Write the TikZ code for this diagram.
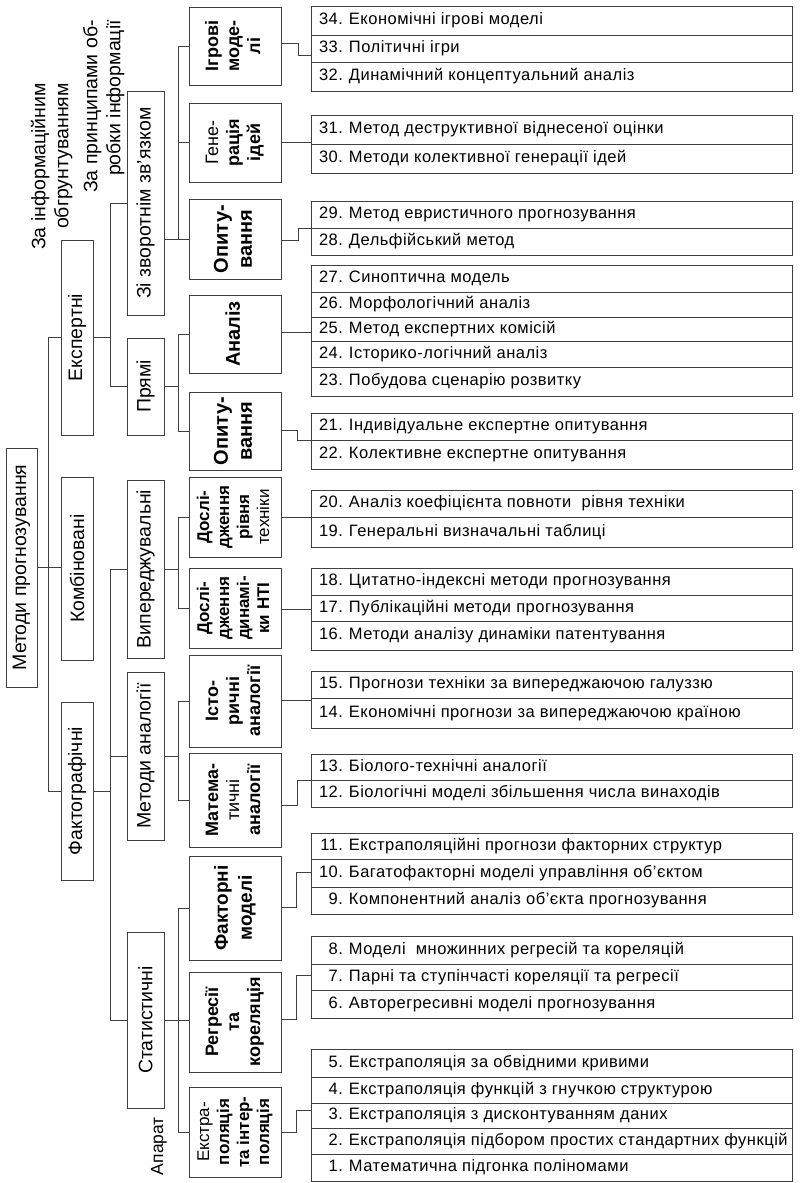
\documentclass[tikz,border=0pt]{standalone}
\usepackage{fontspec}
\setmainfont{Liberation Sans}
\newfontfamily\listfont[LetterSpace=3]{Liberation Sans}
\usepackage{graphicx}
\newcommand\vtxt[1]{\rotatebox{90}{\begin{tabular}{@{}c@{}}#1\end{tabular}}}
\newcommand\lrow[5]{\node[lrow, minimum height={#3-#2}] (#1) at (551.5,{(#2+#3)/2}) {\makebox[469pt][l]{\makebox[26pt][r]{#4}\hspace{6pt}#5}};}
\tikzset{
  ln/.style={draw=black!75, line width=1pt},
  bx/.style={draw=black!75, line width=1pt, rectangle, inner sep=0pt, outer sep=0pt},
  c12/.style={bx, font=\fontsize{19.5}{23}\selectfont},
  c4/.style={bx, minimum width=92, font=\fontsize{18}{21}\selectfont\bfseries},
  c4big/.style={c4, font=\fontsize{20}{24}\selectfont\bfseries},
  c4small/.style={c4, font=\fontsize{17}{20}\selectfont\bfseries},
  lrow/.style={draw=black!75, line width=1pt, rectangle, inner xsep=6pt, inner ysep=0pt, outer sep=0pt, minimum width=481, text height=12pt, text depth=4pt, font=\listfont\fontsize{16.5}{19}\selectfont},
  lab/.style={inner sep=0pt, font=\fontsize{19.5}{23}\selectfont}
}
\begin{document}
\begin{tikzpicture}[x=1pt,y=-1pt]
\useasboundingbox (0,0) rectangle (800,1183);
\fill[white] (0,0) rectangle (800,1183);

% top-left labels
\node[lab, anchor=north west] (lbA) at (29,83) {\rotatebox{90}{\begin{tabular}{@{}r@{}}За інформаційним\\обгрунтуванням\end{tabular}}};
\node[lab, anchor=north west] (lbB) at (81,20) {\rotatebox{90}{\begin{tabular}{@{}r@{}}За принципами об-\\робки інформації\end{tabular}}};
\node[inner sep=0pt, font=\fontsize{17.5}{20}\selectfont] (apar) at (159,1146) {\rotatebox{90}{Апарат}};

% column 1
\node[c12, minimum width=31, minimum height=239] (met) at (21.5,567.5) {\rotatebox{90}{Методи прогнозування}};
% column 2
\node[c12, minimum width=32, minimum height=195] (eks) at (77,337.5) {\rotatebox{90}{Експертні}};
\node[c12, minimum width=32, minimum height=183] (komb) at (77,568.5) {\rotatebox{90}{Комбіновані}};
\node[c12, minimum width=32, minimum height=178] (fakt) at (77,791) {\rotatebox{90}{Фактографічні}};
% column 3
\node[c12, minimum width=37, minimum height=224] (zz) at (145.5,203) {\rotatebox{90}{Зі зворотнім зв’язком}};
\node[c12, minimum width=37, minimum height=97] (pr) at (145.5,386.5) {\rotatebox{90}{Прямі}};
\node[c12, minimum width=37, minimum height=178] (vyp) at (145.5,569) {\rotatebox{90}{Випереджувальні}};
\node[c12, minimum width=37, minimum height=168] (ma) at (145.5,756) {\rotatebox{90}{Методи аналогії}};
\node[c12, minimum width=37, minimum height=176] (st) at (145.5,1020) {\rotatebox{90}{Статистичні}};
% column 4
\node[c4, minimum height=78] (igr) at (235,46) {\vtxt{Ігрові\\моде-\\лі}};
\node[c4, minimum height=79] (gen) at (235,142.5) {\vtxt{{\mdseries Гене-}\\рація\\ідей}};
\node[c4big, minimum height=80] (op1) at (235,239) {\vtxt{Опиту-\\вання}};
\node[c4big, minimum height=78] (an) at (235,334) {\vtxt{Аналіз}};
\node[c4big, minimum height=78] (op2) at (235,431) {\vtxt{Опиту-\\вання}};
\node[c4small, minimum height=80] (drt) at (235,517) {\vtxt{Дослі-\\дження\\рівня\\{\mdseries техніки}}};
\node[c4small, minimum height=80] (ddn) at (235,608) {\vtxt{Дослі-\\дження\\динамі-\\ки НТІ}};
\node[c4, minimum height=92] (ist) at (235,701) {\vtxt{Істо-\\ричні\\аналогії}};
\node[c4, minimum height=94] (mat) at (235,800) {\vtxt{Матема-\\{\mdseries тичні}\\аналогії}};
\node[c4, font=\fontsize{19}{24}\selectfont\bfseries, minimum height=104] (fak) at (235,908) {\vtxt{Факторні\\моделі}};
\node[c4, minimum height=100] (reg) at (235,1022) {\vtxt{Регресії\\та\\кореляція}};
\node[c4small, minimum height=90] (ext) at (235,1132) {\vtxt{{\mdseries Екстра-}\\поляція\\та інтер-\\поляція}};

% list rows
\lrow{r34}{6}{35}{34.}{Економічні ігрові моделі}
\lrow{r33}{35}{62}{33.}{Політичні ігри}
\lrow{r32}{62}{91}{32.}{Динамічний концептуальний аналіз}
\lrow{r31}{115}{144}{31.}{Метод деструктивної віднесеної оцінки}
\lrow{r30}{144}{173}{30.}{Методи колективної генерації ідей}
\lrow{r29}{201}{228}{29.}{Метод евристичного прогнозування}
\lrow{r28}{228}{255}{28.}{Дельфійський метод}
\lrow{r27}{265}{292}{27.}{Синоптична модель}
\lrow{r26}{292}{317}{26.}{Морфологічний аналіз}
\lrow{r25}{317}{341}{25.}{Метод експертних комісій}
\lrow{r24}{341}{367}{24.}{Історико-логічний аналіз}
\lrow{r23}{367}{396}{23.}{Побудова сценарію розвитку}
\lrow{r21}{413}{440}{21.}{Індивідуальне експертне опитування}
\lrow{r22}{440}{469}{22.}{Колективне експертне опитування}
\lrow{r20}{490}{517}{20.}{Аналіз коефіцієнта повноти\ \ рівня техніки}
\lrow{r19}{517}{547}{19.}{Генеральні визначальні таблиці}
\lrow{r18}{568}{595}{18.}{Цитатно-індексні методи прогнозування}
\lrow{r17}{595}{621}{17.}{Публікаційні методи прогнозування}
\lrow{r16}{621}{650}{16.}{Методи аналізу динаміки патентування}
\lrow{r15}{671}{698}{15.}{Прогнози техніки за випереджаючою галуззю}
\lrow{r14}{698}{728}{14.}{Економічні прогнози за випереджаючою країною}
\lrow{r13}{754}{780}{13.}{Біолого-технічні аналогії}
\lrow{r12}{780}{807}{12.}{Біологічні моделі збільшення числа винаходів}
\lrow{r11}{833}{859}{11.}{Екстраполяційні прогнози факторних структур}
\lrow{r10}{859}{887}{10.}{Багатофакторні моделі управління об’єктом}
\lrow{r9}{887}{914}{9.}{Компонентний аналіз об’єкта прогнозування}
\lrow{r8}{936}{964}{8.}{Моделі\ \ множинних регресій та кореляцій}
\lrow{r7}{964}{990}{7.}{Парні та ступінчасті кореляції та регресії}
\lrow{r6}{990}{1018}{6.}{Авторегресивні моделі прогнозування}
\lrow{r5}{1049}{1077}{5.}{Екстраполяція за обвідними кривими}
\lrow{r4}{1077}{1103}{4.}{Екстраполяція функцій з гнучкою структурою}
\lrow{r3}{1103}{1128}{3.}{Екстраполяція з дисконтуванням даних}
\lrow{r2}{1128}{1154}{2.}{Екстраполяція підбором простих стандартних функцій}
\lrow{r1}{1154}{1181}{1.}{Математична підгонка поліномами}

% connectors col1-2
\draw[ln] (met.east) -- (met.east -| komb.west);
\draw[ln] (eks.west) -- ++(-13,0) |- (fakt.west);
% col2-3
\draw[ln] (zz.west) -- ++(-17,0) |- (pr.west);
\draw[ln] (eks.east) -- ++(17,0);
\draw[ln] (vyp.west) -- ++(-17,0) |- (st.west);
\draw[ln] (ma.west) -- ++(-17,0);
\draw[ln] (fakt.east) -- ++(17,0);
% col3-4
\draw[ln] (igr.west) -- ++(-11,0) |- (op1.west);
\draw[ln] (gen.west) -- ++(-11,0);
\draw[ln] (zz.east |- op1.west) -- (op1.west);
\draw[ln] (an.west) -- ++(-11,0) |- (op2.west);
\draw[ln] (pr.east) -- ++(14,0);
\draw[ln] (drt.west) -- ++(-11,0) |- (ddn.west);
\draw[ln] (vyp.east) -- ++(14,0);
\draw[ln] (ist.west) -- ++(-11,0) |- (mat.west);
\draw[ln] (ma.east) -- ++(14,0);
\draw[ln] (fak.west) -- ++(-11,0) |- (ext.west);
\draw[ln] (st.east) -- (st.east -| reg.west);
% col4-lists
\draw[ln] (igr.east |- 0,43) -- ++(17,0) |- (r33.west |- 0,55);
\draw[ln] (gen.east) -- (gen.east -| r31.west);
\draw[ln] (op1.east |- 0,240) -- ++(17,0) |- (r28.west |- 0,228);
\draw[ln] (an.east |- 0,332) -- (r25.west |- 0,332);
\draw[ln] (op2.east |- 0,430) -- ++(16,0) |- (r22.west |- 0,440);
\draw[ln] (drt.east) -- (drt.east -| r20.west);
\draw[ln] (ddn.east |- 0,609) -- (r17.west |- 0,609);
\draw[ln] (ist.east |- 0,700) -- (r15.west |- 0,700);
\draw[ln] (mat.east |- 0,805) -- ++(16,0) |- (r12.west |- 0,780);
\draw[ln] (fak.east |- 0,907) -- ++(15,0) |- (r10.west |- 0,872);
\draw[ln] (reg.east |- 0,1019) -- ++(15,0) |- (r7.west |- 0,975);
\draw[ln] (ext.east |- 0,1132) -- ++(15,0) |- (r3.west |- 0,1110);
\end{tikzpicture}
\end{document}
